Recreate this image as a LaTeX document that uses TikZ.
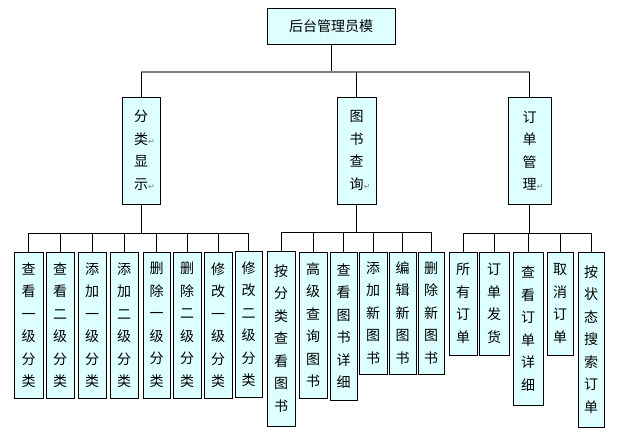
\documentclass[tikz,border=0pt]{standalone}
\usepackage{fontspec}
\newfontfamily\cjk{Noto Sans CJK SC}
\newfontfamily\dejavu{DejaVu Sans}
\usetikzlibrary{calc}
\definecolor{boxfill}{HTML}{DDFFFF}
\definecolor{bargray}{HTML}{808080}
\newcommand{\parmk}{\makebox[0pt][l]{\dejavu\fontsize{8}{8}\selectfont\color{bargray}↵}}
\tikzset{
  box/.style={draw=black, line width=0.8pt, fill=boxfill, inner sep=0pt, align=center,
              font=\cjk\fontsize{14}{22.5}\selectfont},
  conn/.style={draw=black, line width=0.8pt},
  topconn/.style={draw=bargray, line width=2pt},
}
\begin{document}
\begin{tikzpicture}[x=1pt,y=-1pt]
\useasboundingbox (0,0) rectangle (625,442);
\fill[white] (0,0) rectangle (625,442);

% root
\node[box, minimum width=128, minimum height=36] (root) at (331,26) {后台管理员模};

% level 2
\node[box, minimum width=38, minimum height=107] (a) at (141,150.5) {分\\类\parmk\\显\\示\parmk};
\node[box, minimum width=39, minimum height=107] (b) at (356.5,150.5) {图\\书\\查\\询\parmk};
\node[box, minimum width=43, minimum height=107] (c) at (529.5,150.5) {订\\单\\管\\理\parmk};

% level 3 left
\node[box, minimum width=29, minimum height=146] (l1) at (28.5,325) {查\\看\\一\\级\\分\\类};
\node[box, minimum width=28, minimum height=146] (l2) at (60,325) {查\\看\\二\\级\\分\\类};
\node[box, minimum width=28, minimum height=146] (l3) at (92,325) {添\\加\\一\\级\\分\\类};
\node[box, minimum width=28, minimum height=146] (l4) at (124,325) {添\\加\\二\\级\\分\\类};
\node[box, minimum width=27, minimum height=146] (l5) at (156.5,325) {删\\除\\一\\级\\分\\类};
\node[box, minimum width=28, minimum height=146] (l6) at (187,325) {删\\除\\二\\级\\分\\类};
\node[box, minimum width=28, minimum height=146] (l7) at (218,325) {修\\改\\一\\级\\分\\类};
\node[box, minimum width=27, minimum height=146] (l8) at (248.5,324) {修\\改\\二\\级\\分\\类};

% level 3 middle
\node[box, minimum width=28, minimum height=175] (m1) at (281,338.5) {按\\分\\类\\查\\看\\图\\书};
\node[box, minimum width=28, minimum height=146] (m2) at (313,325) {高\\级\\查\\询\\图\\书};
\node[box, minimum width=27, minimum height=148] (m3) at (343.5,326) {查\\看\\图\\书\\详\\细};
\node[box, minimum width=28, minimum height=122] (m4) at (373,313) {添\\加\\新\\图\\书};
\node[box, minimum width=27, minimum height=122] (m5) at (402.5,313) {编\\辑\\新\\图\\书};
\node[box, minimum width=26, minimum height=122] (m6) at (431,313) {删\\除\\新\\图\\书};

% level 3 right
\node[box, minimum width=28, minimum height=103] (r1) at (463,303.5) {所\\有\\订\\单};
\node[box, minimum width=30, minimum height=103] (r2) at (494,303.5) {订\\单\\发\\货};
\node[box, minimum width=30, minimum height=153] (r3) at (528,328.5) {查\\看\\订\\单\\详\\细};
\node[box, minimum width=26, minimum height=103] (r4) at (560,303.5) {取\\消\\订\\单};
\node[box, minimum width=26, minimum height=175] (r5) at (591,339.5) {按\\状\\态\\搜\\索\\订\\单};

% bars
\coordinate (t1) at (0,72);
\coordinate (lb) at (0,233);
\coordinate (mb) at (0,232);
\coordinate (rb) at (0,233);

% top connectors
\draw[conn] (root.south) -- (root.south |- t1);
\draw[topconn] (a.north |- t1) -- (c.north |- t1);
\foreach \n in {a,b,c} \draw[conn] (\n.north |- t1) -- (\n.north);

% left group
\foreach \n in {l1,l2,l3,l4,l5,l6,l7,l8}
  \draw[conn] (a.south) -- (a.south |- lb) -| (\n.north);
% middle group
\foreach \n in {m1,m2,m3,m4,m5,m6}
  \draw[conn] (b.south) -- (b.south |- mb) -| (\n.north);
% right group
\foreach \n in {r1,r2,r3,r4,r5}
  \draw[conn] (c.south) -- (c.south |- rb) -| (\n.north);
\end{tikzpicture}
\end{document}
